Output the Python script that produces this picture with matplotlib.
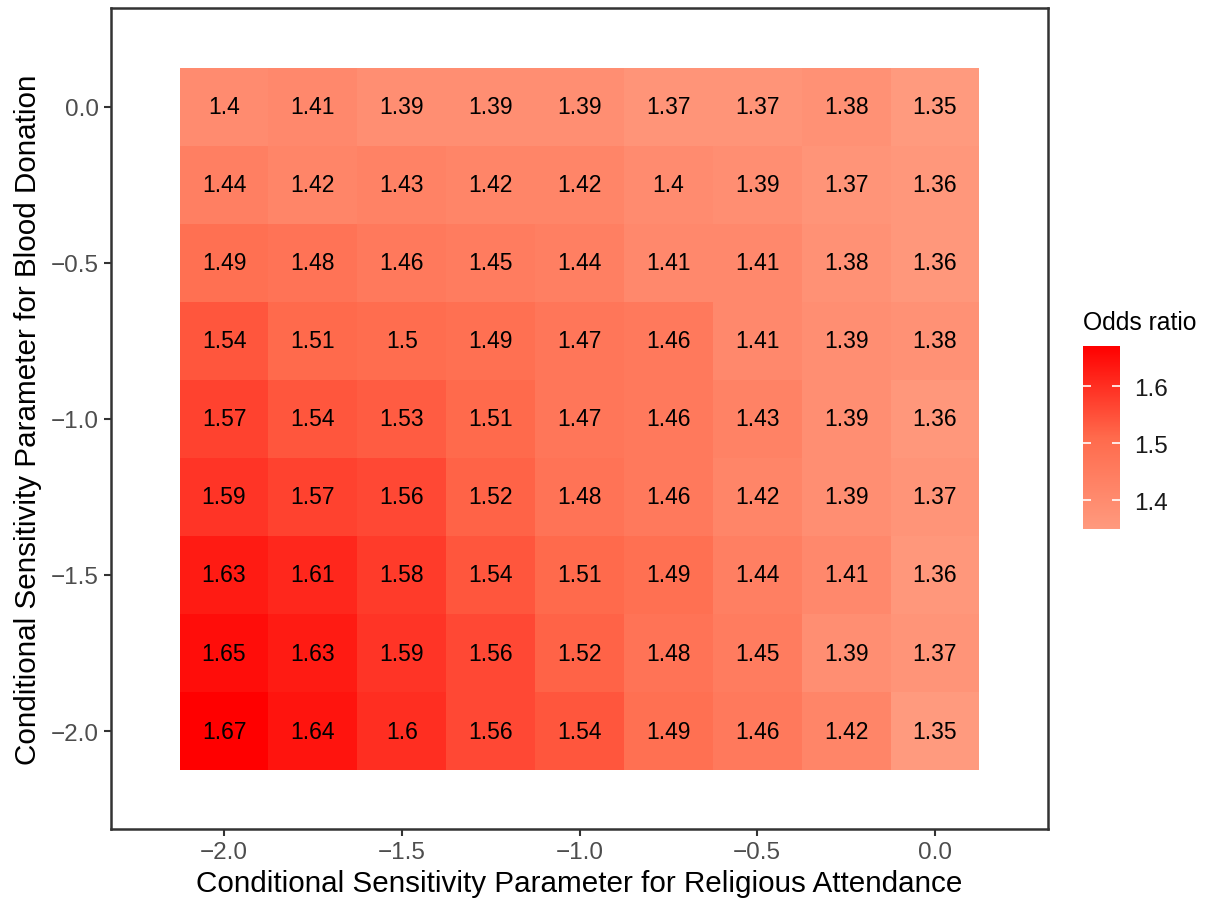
import numpy as np
import matplotlib
matplotlib.use("Agg")
import matplotlib.pyplot as plt
from matplotlib.colors import LinearSegmentedColormap, Normalize

plt.rcParams['font.family'] = ['Liberation Sans', 'DejaVu Sans']

# === Data ===
religious = [-2.0, -1.75, -1.5, -1.25, -1.0, -0.75, -0.5, -0.25, 0.0]   # x
blood = [0.0, -0.25, -0.5, -0.75, -1.0, -1.25, -1.5, -1.75, -2.0]       # y (rows top to bottom)

row_0_00 = [1.40, 1.41, 1.39, 1.39, 1.39, 1.37, 1.37, 1.38, 1.35]
row_0_25 = [1.44, 1.42, 1.43, 1.42, 1.42, 1.40, 1.39, 1.37, 1.36]
row_0_50 = [1.49, 1.48, 1.46, 1.45, 1.44, 1.41, 1.41, 1.38, 1.36]
row_0_75 = [1.54, 1.51, 1.50, 1.49, 1.47, 1.46, 1.41, 1.39, 1.38]
row_1_00 = [1.57, 1.54, 1.53, 1.51, 1.47, 1.46, 1.43, 1.39, 1.36]
row_1_25 = [1.59, 1.57, 1.56, 1.52, 1.48, 1.46, 1.42, 1.39, 1.37]
row_1_50 = [1.63, 1.61, 1.58, 1.54, 1.51, 1.49, 1.44, 1.41, 1.36]
row_1_75 = [1.65, 1.63, 1.59, 1.56, 1.52, 1.48, 1.45, 1.39, 1.37]
row_2_00 = [1.67, 1.64, 1.60, 1.56, 1.54, 1.49, 1.46, 1.42, 1.35]

odds = np.array([row_0_00, row_0_25, row_0_50, row_0_75, row_1_00,
                 row_1_25, row_1_50, row_1_75, row_2_00])

# === Colours (ggplot-like gradient) ===
cmap = LinearSegmentedColormap.from_list(
    "salmon_red", [(0.0, "#FF9A7E"), (0.5, "#FF6A4C"), (1.0, "#FF0000")])
norm = Normalize(vmin=odds.min(), vmax=odds.max())

fig = plt.figure(figsize=(12.10, 9.04), dpi=100)
ax = fig.add_axes([111 / 1210, 74 / 904, 937 / 1210, 821 / 904])

# tile edges
step = 0.25
x = np.array(religious)
y = np.array(blood)
x_edges = np.append(x - step / 2, x[-1] + step / 2)
y_edges = np.append(y + step / 2, y[-1] - step / 2)
ax.pcolormesh(x_edges, y_edges, odds, cmap=cmap, norm=norm, shading="flat",
              edgecolors="face", linewidth=0)

for i, yv in enumerate(y):
    for j, xv in enumerate(x):
        ax.text(xv, yv, f"{odds[i, j]:g}", ha="center", va="center",
                fontsize=16.5, color="black")

ax.set_xlim(-2.318, 0.318)
ax.set_ylim(-2.314, 0.317)
ax.set_xticks([-2.0, -1.5, -1.0, -0.5, 0.0])
ax.set_yticks([0.0, -0.5, -1.0, -1.5, -2.0])
ax.set_xticklabels(["\u22122.0", "\u22121.5", "\u22121.0", "\u22120.5", "0.0"])
ax.set_yticklabels(["0.0", "\u22120.5", "\u22121.0", "\u22121.5", "\u22122.0"])
ax.tick_params(length=5, width=1.5, color="#333333", labelsize=17.5,
               labelcolor="#4D4D4D", pad=4)
for sp in ax.spines.values():
    sp.set_color("#333333")
    sp.set_linewidth(1.8)

ax.set_xlabel("Conditional Sensitivity Parameter for Religious Attendance",
              fontsize=21.3, labelpad=4)
ax.set_ylabel("Conditional Sensitivity Parameter for Blood Donation",
              fontsize=21.3, labelpad=6)

# === Colour bar legend ===
cax = fig.add_axes([1083 / 1210, 374 / 904, 37 / 1210, 183 / 904])
sm = plt.cm.ScalarMappable(cmap=cmap, norm=norm)
cb = fig.colorbar(sm, cax=cax, ticks=[1.4, 1.5, 1.6])
cb.outline.set_visible(False)
cb.ax.tick_params(direction="in", color="white", length=6, width=1.2,
                  left=True, right=True, labelsize=17.5, labelcolor="#1A1A1A",
                  pad=10)
cb.ax.set_yticklabels(["1.4", "1.5", "1.6"])
fig.text(1083 / 1210, 1 - 323 / 904, "Odds ratio", fontsize=17.8,
         ha="left", va="center")

fig.savefig("out.png", dpi=100)
